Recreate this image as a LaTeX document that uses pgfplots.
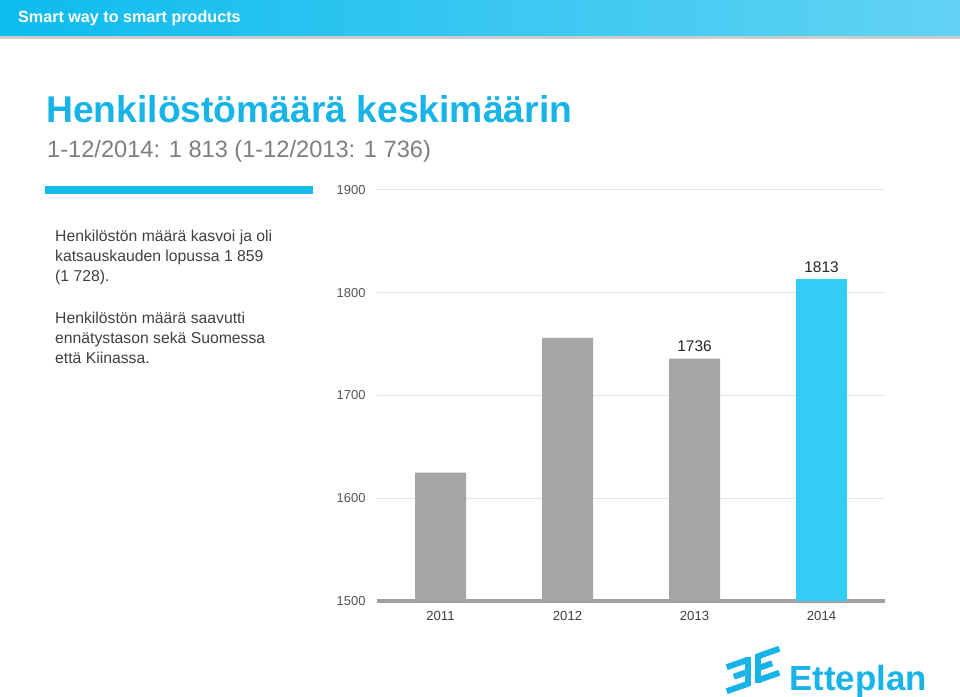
\documentclass[border=0pt]{standalone}
\usepackage{pgfplots}
\pgfplotsset{compat=1.18}
\usepackage{fontspec}
\setmainfont{Liberation Sans}
\definecolor{hdrL}{HTML}{0DBCEE}
\definecolor{hdrR}{HTML}{62D2F4}
\definecolor{titleblue}{HTML}{18B4E8}
\definecolor{subgray}{HTML}{7F7F7F}
\definecolor{bodytext}{HTML}{404040}
\definecolor{bluebar}{HTML}{12BDEE}
\definecolor{bargray}{HTML}{A6A6A6}
\definecolor{barblue}{HTML}{33CCF5}
\definecolor{gridgray}{HTML}{E3E3E3}
\definecolor{axisgray}{HTML}{A0A0A0}
\definecolor{tickgray}{HTML}{555555}
\newcommand{\fs}[1]{\fontsize{#1}{#1}\selectfont}
\begin{document}
\begin{tikzpicture}[x=1bp,y=1bp]
\path[use as bounding box] (0,0) rectangle (960,697);
\fill[white] (0,0) rectangle (960,697);
% header
\shade[left color=hdrL, right color=hdrR] (0,697) rectangle (960,661);
\fill[black!20] (0,661) rectangle (960,658);
\node[anchor=base west, inner sep=0pt, text=white, font=\bfseries\fs{16.2}] at (18,697-23) {Smart way to smart products};
% titles
\node[anchor=base west, inner sep=0pt, text=titleblue, font=\bfseries\fs{37.4}] at (46,697-123) {Henkilöstömäärä keskimäärin};
\node[anchor=base west, inner sep=0pt, text=subgray, font=\fs{23.7}] at (47,697-158) {1-12/2014: 1 813 (1-12/2013: 1 736)};
\fill[bluebar] (45,697-186) rectangle (313,697-194);
% body text
\begin{scope}[every node/.style={anchor=base west, inner sep=0pt, text=bodytext, font=\fs{15.8}}]
\node at (55,697-242) {Henkilöstön määrä kasvoi ja oli};
\node at (55,697-262) {katsauskauden lopussa 1 859};
\node at (55,697-282) {(1 728).};
\node at (55,697-324) {Henkilöstön määrä saavutti};
\node at (55,697-344) {ennätystason sekä Suomessa};
\node at (55,697-364) {että Kiinassa.};
\end{scope}
% chart
\begin{axis}[at={(377bp,96bp)}, anchor=south west,
  width=508bp, height=411bp, scale only axis,
  xmin=-0.5, xmax=3.5, ymin=1500, ymax=1900,
  ytick={1500,1600,1700,1800,1900},
  xtick={0,1,2,3}, xticklabels={2011,2012,2013,2014},
  axis x line*=bottom, axis y line*=left,
  y axis line style={draw=none},
  x axis line style={line width=3.5bp, draw=axisgray},
  major tick length=0pt,
  ymajorgrids, grid style={line width=1bp, draw=gridgray},
  yticklabel style={font=\fs{13}, text=tickgray, anchor=east, xshift=-8bp},
  xticklabel style={font=\fs{13.2}, text=bodytext, yshift=-7bp},
  /pgf/number format/assume math mode=true,
  /pgf/number format/1000 sep={},
  ybar, bar width=51bp, bar shift=0pt,
  clip=false,
  every node near coord/.append style={font=\fs{15.5}, text=black!85, yshift=3bp},
]
\addplot[fill=bargray, draw=none, point meta=explicit symbolic, nodes near coords]
  coordinates {(0,1625) [] (1,1756) [] (2,1736) [1736]};
\addplot[fill=barblue, draw=none, point meta=explicit symbolic, nodes near coords]
  coordinates {(3,1813) [1813]};
\end{axis}
% logo mark
\begin{scope}[shift={(753,697-670)}, scale=1.2, yslant=0.35, line width=6bp]
  \draw[titleblue] (-4,-12) -- (-4,12);
  \draw[titleblue] (-4,10) -- (-22,10);
  \draw[titleblue] (-4,0) -- (-16,0);
  \draw[titleblue] (-4,-10) -- (-22,-10);
  \draw[titleblue] (4,-12) -- (4,12);
  \draw[titleblue] (4,10) -- (22,10);
  \draw[titleblue] (4,0) -- (16,0);
  \draw[titleblue] (4,-10) -- (22,-10);
\end{scope}
\node[anchor=base west, inner sep=0pt, text=titleblue, font=\bfseries\fs{35}] at (789,697-691) {Etteplan};
\end{tikzpicture}
\end{document}
